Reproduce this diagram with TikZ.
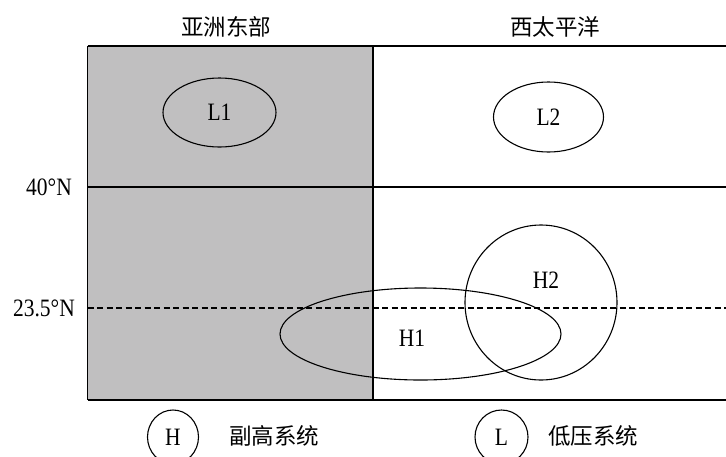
\documentclass[tikz,border=0pt]{standalone}
\usepackage{fontspec}
\setmainfont{Liberation Serif}[FakeStretch=0.86]
\newfontfamily\cjk{Noto Sans CJK SC}
\usetikzlibrary{shapes.geometric}
\definecolor{asiagray}{RGB}{192,191,192}
\tikzset{
  frame/.style={line width=1.3pt},
  sys/.style={ellipse, draw, line width=1.1pt, inner sep=0pt, font=\fontsize{25}{25}\selectfont},
  cjklabel/.style={font=\cjk\fontsize{22.5}{22.5}\selectfont, inner sep=0pt},
  latlabel/.style={font=\fontsize{25}{25}\selectfont, inner sep=0pt}
}
\begin{document}
\begin{tikzpicture}[x=1pt,y=-1pt]
\useasboundingbox (0,0) rectangle (726,456);
\clip (0,0) rectangle (726,456);
% shaded East Asia region
\fill[asiagray] (87.5,46) rectangle (373,400);
% frame lines
\coordinate (tl) at (87.5,46);
\coordinate (tr) at (727,46);
\coordinate (bl) at (87.5,400);
\coordinate (br) at (727,400);
\coordinate (mt) at (373,46);
\coordinate (mb) at (373,400);
\coordinate (fl) at (87.5,187);
\coordinate (fr) at (727,187);
\coordinate (dl) at (87.5,308);
\coordinate (dr) at (727,308);
\draw[frame] (tl) -- (tr);
\draw[frame] (bl) -- (br);
\draw[frame] (tl) -- (bl);
\draw[frame] (mt) -- (mb);
\draw[frame] (fl) -- (fr);
\draw[line width=1.1pt, dash pattern=on 6pt off 3.5pt] (dl) -- (dr);
% headings
\node[cjklabel] (hasia) at (226,27) {亚洲东部};
\node[cjklabel] (hpac) at (555,27) {西太平洋};
% latitude labels
\node[latlabel] (lat40) at (49,187) {40°N};
\node[latlabel] (lat23) at (44,308) {23.5°N};
% systems
\node[sys, minimum width=113pt, minimum height=69pt] (L1) at (219.5,112.5) {L1};
\node[sys, minimum width=110pt, minimum height=70pt] (L2) at (548.5,117) {L2};
\node[sys, minimum width=281pt, minimum height=92pt] (H1) at (420.5,334) {};
\node[latlabel] (H1t) at (412,338) {H1};
\node[sys, minimum width=152pt, minimum height=155pt] (H2) at (541,302.5) {};
\node[latlabel] (H2t) at (546,280) {H2};
% legend
\node[sys, minimum width=51pt, minimum height=54pt] (legH) at (173,437) {H};
\node[cjklabel] (legHt) at (274,436) {副高系统};
\node[sys, minimum width=53pt, minimum height=54pt] (legL) at (501.5,437) {L};
\node[cjklabel] (legLt) at (593,436) {低压系统};
\end{tikzpicture}
\end{document}
